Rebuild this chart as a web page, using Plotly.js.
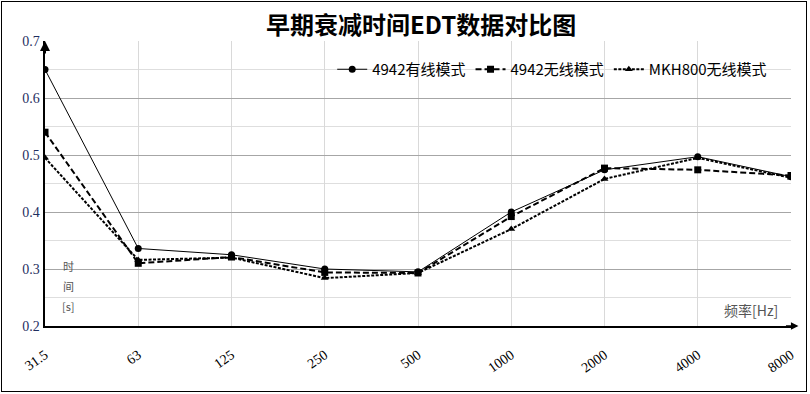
<!DOCTYPE html>
<html>
<head>
<meta charset="utf-8">
<script src="https://cdn.plot.ly/plotly-3.0.1.min.js"></script>
<style>
html,body{margin:0;padding:0;background:#fff;}
#wrap{position:relative;width:810px;height:394px;}
#chart{width:810px;height:394px;}
#frame{position:absolute;left:1px;top:1px;width:804px;height:389px;border:1px solid #000;pointer-events:none;}
</style>
</head>
<body>
<div id="wrap"><div id="chart"></div><div id="frame"></div></div>
<script>
const categories = ["31.5","63","125","250","500","1000","2000","4000","8000"];
const wiredValues = [0.65, 0.336, 0.325, 0.300, 0.295, 0.400, 0.474, 0.497, 0.462];
const wirelessValues = [0.54, 0.310, 0.321, 0.294, 0.293, 0.392, 0.477, 0.474, 0.464];
const mkhValues = [0.495, 0.316, 0.320, 0.284, 0.293, 0.370, 0.458, 0.495, 0.460];
const seriesNames = ["4942有线模式", "4942无线模式", "MKH800无线模式"];
const titleText = "早期衰减时间EDT数据对比图";
const xTitleText = "频率[Hz]";
const yTitleParts = ["时", "间", "[s]"];

const traces = [
  {x: categories, y: wiredValues, name: seriesNames[0], type: 'scatter', mode: 'lines+markers',
   line: {color: '#000', width: 1}, marker: {symbol: 'circle', size: 7, color: '#000'}},
  {x: categories, y: wirelessValues, name: seriesNames[1], type: 'scatter', mode: 'lines+markers',
   line: {color: '#000', width: 2, dash: '6px,3px'}, marker: {symbol: 'square', size: 7, color: '#000'}},
  {x: categories, y: mkhValues, name: seriesNames[2], type: 'scatter', mode: 'lines+markers',
   line: {color: '#000', width: 2, dash: '3px,1.5px'}, marker: {symbol: 'triangle-up', size: 7, color: '#000'}}
];

const annotations = [
  {xref: 'paper', yref: 'paper', x: 0, y: 1.0, ax: 0, ay: 14, axref: 'pixel', ayref: 'pixel',
   showarrow: true, arrowhead: 2, arrowsize: 1, arrowwidth: 2, arrowcolor: '#000', text: ''},
  {xref: 'paper', yref: 'paper', x: 1.01, y: 0, ax: -14, ay: 0,
   showarrow: true, arrowhead: 2, arrowsize: 1, arrowwidth: 1.5, arrowcolor: '#000', text: ''},
  {xref: 'paper', yref: 'paper', x: 0.985, y: 0.055, xanchor: 'right', yanchor: 'middle', showarrow: false,
   text: xTitleText, font: {family: 'Noto Sans CJK SC', size: 14, color: '#555'}}
];
yTitleParts.forEach(function (t, i) {
  annotations.push({xref: 'paper', yref: 'paper', x: 0.032, y: 0.21 - i * 0.07, xanchor: 'center', yanchor: 'middle',
    showarrow: false, text: t, font: {family: 'Noto Sans CJK SC', size: 11, color: '#555'}});
});

const layout = {
  width: 810, height: 394,
  margin: {l: 45, r: 19, t: 41, b: 68},
  paper_bgcolor: '#fff', plot_bgcolor: '#fff',
  showlegend: true,
  title: {text: '<b>' + titleText + '</b>', x: 0.52, xanchor: 'center', y: 0.935, yanchor: 'middle',
          font: {family: 'Noto Sans CJK SC', size: 24, color: '#000'}},
  xaxis: {
    type: 'category', range: [0, 8], showgrid: true, gridcolor: '#d9d9d9', gridwidth: 1,
    showline: true, linecolor: '#000', linewidth: 1.5, zeroline: false,
    ticks: '', tickangle: -35, ticklabelstandoff: 14,
    tickfont: {family: 'Liberation Serif', size: 14, color: '#000'}
  },
  yaxis: {
    range: [0.2, 0.7], dtick: 0.1, tick0: 0.2, showgrid: true, gridcolor: '#a6a6a6', gridwidth: 1,
    minor: {dtick: 0.05, showgrid: true, gridcolor: '#dedede', gridwidth: 1, ticks: ''},
    showline: true, linecolor: '#000', linewidth: 2.5, zeroline: false, ticks: '',
    tickformat: '.1f',
    tickfont: {family: 'Liberation Serif', size: 14, color: '#1f2f5f'}
  },
  legend: {orientation: 'h', x: 0.385, xanchor: 'left', y: 0.9, yanchor: 'middle',
           bgcolor: 'rgba(0,0,0,0)', font: {family: 'Noto Sans CJK SC', size: 15, color: '#000'},
           itemwidth: 30, tracegroupgap: 0},
  annotations: annotations
};

Plotly.newPlot('chart', traces, layout, {displayModeBar: false, staticPlot: true});
</script>
</body>
</html>
